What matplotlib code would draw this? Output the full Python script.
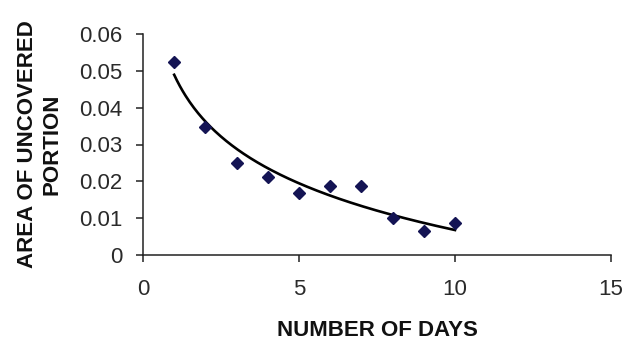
import numpy as np
import matplotlib
matplotlib.use("Agg")
import matplotlib.pyplot as plt

days = [1, 2, 3, 4, 5, 6, 7, 8, 9, 10]
area = [0.0525, 0.0347, 0.0251, 0.0211, 0.0167, 0.0188, 0.0188, 0.0101, 0.0064, 0.0086]
x_ticks = [0, 5, 10, 15]
y_ticks = [0, 0.01, 0.02, 0.03, 0.04, 0.05, 0.06]
y_tick_labels = ["0", "0.01", "0.02", "0.03", "0.04", "0.05", "0.06"]

plt.rcParams['font.family'] = ['Liberation Sans', 'DejaVu Sans']

fig = plt.figure(figsize=(6.29, 3.40), dpi=100)
ax = fig.add_axes([0.2273, 0.25, 0.7441, 0.65])

# logarithmic trendline (least squares on ln x)
b, a = np.polyfit(np.log(days), area, 1)
xs = np.linspace(min(days), max(days), 200)
ax.plot(xs, a + b * np.log(xs), color='black', lw=1.9, zorder=2)

ax.plot(days, area, linestyle='none', marker='D', ms=6,
        color='#141454', zorder=3)

ax.set_xlim(0, 15)
ax.set_ylim(0, 0.06)
ax.set_xticks(x_ticks)
ax.set_xticklabels([str(t) for t in x_ticks])
ax.set_yticks(y_ticks)
ax.set_yticklabels(y_tick_labels)

for s in ['top', 'right']:
    ax.spines[s].set_visible(False)
for s in ['left', 'bottom']:
    ax.spines[s].set_linewidth(1.1)
    ax.spines[s].set_color('#222222')

ax.tick_params(direction='out', length=5, width=1.1, color='#222222',
               labelsize=16, labelcolor='#2a2a2a')
ax.tick_params(axis='x', pad=12)
ax.tick_params(axis='y', pad=10)

ax.set_xlabel('NUMBER OF DAYS', fontsize=16, fontweight='bold',
              color='#111111', labelpad=15)
ax.set_ylabel('AREA OF UNCOVERED\nPORTION', fontsize=16, fontweight='bold',
              color='#111111', labelpad=12, linespacing=1.2)

fig.savefig('out.png', dpi=100)
